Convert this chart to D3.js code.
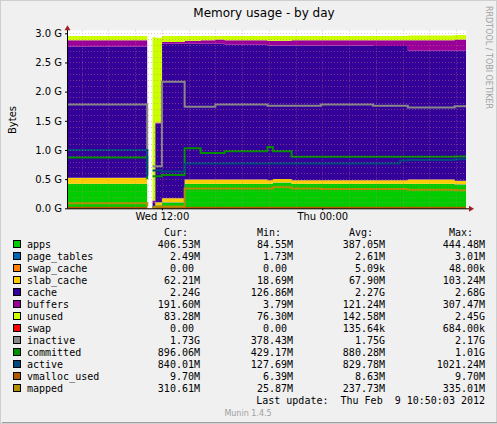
<!DOCTYPE html>
<html><head><meta charset="utf-8">
<script src="https://cdn.jsdelivr.net/npm/d3@7"></script>
<style>
body{margin:0;background:#fff}
text{font-family:"DejaVu Sans",sans-serif}
.mono{font-family:"DejaVu Sans Mono",monospace;font-size:10px;white-space:pre}
</style></head><body>
<svg id="c" width="497" height="424"></svg>
<script>
// hours since Wed 2012-02-08 00:00, step-after samples
var hours = [4.9, 10.9, 11.15, 11.3, 11.5, 12.0, 13.7, 14.9, 16.0, 16.7, 19.9, 20.3, 21.7, 23.9, 27.8, 29.8, 30.4, 33.9, 34.75];
// values in GB
var apps      = [0.42, 0.05, NaN, 0.00, 0.05, 0.10, 0.42, 0.42, 0.42, 0.42, 0.42, 0.44, 0.42, 0.42, 0.42, 0.42, 0.42, 0.41, 0.41];
var pageTables= [0.003,0.003,NaN,0.003,0.003,0.003,0.003,0.003,0.003,0.003,0.003,0.003,0.003,0.003,0.003,0.003,0.003,0.003,0.003];
var swapCache = [0, 0, NaN, 0, 0, 0, 0, 0, 0, 0, 0, 0, 0, 0, 0, 0, 0, 0, 0];
var slabCache = [0.10, 0.02, NaN, 0.00, 0.05, 0.07, 0.07, 0.07, 0.07, 0.07, 0.06, 0.06, 0.06, 0.06, 0.06, 0.06, 0.07, 0.06, 0.06];
var cache     = [2.25, 0.40, NaN, 0.10, 1.35, 2.65, 2.33, 2.33, 2.33, 2.31, 2.31, 2.29, 2.31, 2.31, 2.30, 2.30, 2.21, 2.23, 2.24];
var buffers   = [0.11, 0.03, NaN, 0.03, 0.02, 0.03, 0.05, 0.06, 0.07, 0.08, 0.08, 0.08, 0.09, 0.09, 0.10, 0.10, 0.18, 0.19, 0.19];
var unused    = [0.07, 2.40, NaN, 2.80, 1.45, 0.10, 0.08, 0.07, 0.06, 0.07, 0.08, 0.08, 0.07, 0.07, 0.07, 0.07, 0.08, 0.08, 0.08];
var swap      = [0, 0, NaN, 0, 0, 0, 0, 0, 0, 0, 0, 0, 0, 0, 0, 0, 0, 0, 0];
var inactive  = [1.78, 0.60, NaN, 0.72, 0.72, 2.17, 1.74, 1.74, 1.78, 1.78, 1.76, 1.76, 1.76, 1.78, 1.76, 1.76, 1.73, 1.75, 1.75];
var committed = [0.87, 0.50, NaN, 0.55, 0.55, 0.57, 1.03, 0.95, 0.95, 0.98, 1.05, 0.98, 0.885, 0.885, 0.885, 0.885, 0.885, 0.89, 0.89];
var active    = [1.00, 0.55, NaN, 0.65, 0.65, 0.63, 0.77, 0.77, 0.77, 0.77, 0.77, 0.77, 0.77, 0.77, 0.77, 0.82, 0.83, 0.84, 0.84];
var vmalloc   = [0.01, 0.01, NaN, 0.01, 0.01, 0.01, 0.01, 0.01, 0.01, 0.01, 0.01, 0.01, 0.01, 0.01, 0.01, 0.01, 0.01, 0.01, 0.01];
var mapped    = [0.085,0.03, NaN, 0.02, 0.03, 0.03, 0.34, 0.34, 0.34, 0.34, 0.34, 0.36, 0.34, 0.33, 0.33, 0.33, 0.32, 0.31, 0.31];
var yTicks = [0, 0.5, 1.0, 1.5, 2.0, 2.5, 3.0];
var xTickHours = [12, 24];
var xTickLabels = ["Wed 12:00", "Thu 00:00"];

var names = ["apps","page_tables","swap_cache","slab_cache","cache","buffers","unused","swap","inactive","committed","active","vmalloc_used","mapped"];
var colors = ["#00CC00","#0066B3","#FF8000","#FFCC00","#330099","#990099","#CCFF00","#FF0000","#888888","#008F00","#00487D","#B35A00","#B38F00"];
var curV = ["406.53M","2.49M","0.00 ","62.21M","2.24G","191.60M","83.28M","0.00 ","1.73G","896.06M","840.01M","9.70M","310.61M"];
var minV = ["84.55M","1.73M","0.00 ","18.69M","126.86M","3.79M","76.30M","0.00 ","378.43M","429.17M","127.69M","6.39M","25.87M"];
var avgV = ["387.05M","2.61M","5.09k","67.90M","2.27G","121.24M","142.58M","135.64k","1.75G","880.28M","829.78M","8.63M","237.73M"];
var maxV = ["444.48M","3.01M","48.00k","103.24M","2.68G","307.47M","2.45G","684.00k","2.17G","1.01G","1021.24M","9.70M","335.01M"];

var svg = d3.select("#c");
svg.append("rect").attr("width",497).attr("height",424).attr("fill","#F0F0F0");
svg.append("rect").attr("x",0.5).attr("y",0.5).attr("width",496).attr("height",423).attr("fill","none").attr("stroke","#CFCFCF");
svg.append("line").attr("x1",2).attr("x2",497).attr("y1",422.5).attr("y2",422.5).attr("stroke","#A0A0A0");

var L = 67, R = 466, T = 33.3, B = 208.3;
var x = d3.scaleLinear().domain([hours[0], hours[hours.length-1]]).range([L, R]);
var y = d3.scaleLinear().domain([0, 3.0]).range([B, T]);

svg.append("rect").attr("x",L).attr("y",T-3).attr("width",R-L).attr("height",B-T+3).attr("fill","#fff");

var stackSeries = [apps, pageTables, swapCache, slabCache, cache, buffers, unused, swap];
var base = hours.map(function () { return 0; });
stackSeries.forEach(function (s, k) {
    var pts = hours.map(function (h, i) { var lo = base[i]; base[i] = lo + (isNaN(s[i]) ? 0 : s[i]); return {h: h, lo: lo, hi: base[i], ok: !isNaN(s[i])}; });
    var area = d3.area().defined(function (d) { return d.ok; }).curve(d3.curveStepAfter)
        .x(function (d) { return x(d.h); }).y0(function (d) { return y(d.lo); }).y1(function (d) { return y(d.hi); });
    svg.append("path").attr("d", area(pts)).attr("fill", colors[k]);
});

var lineSeries = [inactive, committed, active, vmalloc, mapped];
lineSeries.forEach(function (s, k) {
    var line = d3.line().defined(function (d) { return !isNaN(d[1]); }).curve(d3.curveStepAfter)
        .x(function (d) { return x(d[0]); }).y(function (d) { return y(d[1]); });
    svg.append("path").attr("d", line(hours.map(function (h, i) { return [h, s[i]]; })))
        .attr("fill","none").attr("stroke", colors[8 + k]).attr("stroke-width", 2);
});

// grid drawn on top, like rrdtool
var g = svg.append("g").attr("opacity",0.55);
d3.range(0, 3.01, 0.1).forEach(function (v) {
    g.append("line").attr("x1",L).attr("x2",R).attr("y1",Math.round(y(v))+0.5).attr("y2",Math.round(y(v))+0.5)
        .attr("stroke", "#D08080").attr("stroke-dasharray","1,2").attr("stroke-width",0.8);
});
for (var hh = 6; hh <= 34; hh += 2) {
    g.append("line").attr("x1",Math.round(x(hh))+0.5).attr("x2",Math.round(x(hh))+0.5).attr("y1",T-3).attr("y2",B)
        .attr("stroke", hh % 12 === 0 ? "#D06060" : "#D08080").attr("stroke-dasharray","1,2").attr("stroke-width",0.8);
}

// axes
var yAxis = svg.append("g").attr("transform","translate(" + L + ",0)")
    .call(d3.axisLeft(y).tickValues(yTicks).tickSize(2).tickFormat(function (d) { return d.toFixed(1) + " G"; }));
var xAxis = svg.append("g").attr("transform","translate(0," + B + ")")
    .call(d3.axisBottom(x).tickValues(xTickHours).tickSize(2).tickFormat(function (d, i) { return xTickLabels[i]; }));
[yAxis, xAxis].forEach(function (a) {
    a.select(".domain").remove();
    a.selectAll("text").attr("font-size", 10).attr("fill","#000").attr("font-family","DejaVu Sans");
    a.selectAll("line").attr("stroke","#000");
});
svg.append("line").attr("x1",L).attr("x2",R+5).attr("y1",B+0.5).attr("y2",B+0.5).attr("stroke","#000");
svg.append("line").attr("x1",L+0.5).attr("x2",L+0.5).attr("y1",B).attr("y2",T-7).attr("stroke","#000");
svg.append("path").attr("d","M" + (R+3) + "," + (B-2.5) + "L" + (R+8) + "," + (B+0.5) + "L" + (R+3) + "," + (B+3.5) + "Z").attr("fill","#A02020");
svg.append("path").attr("d","M" + (L-2.5) + "," + (T-3) + "L" + (L+0.5) + "," + (T-8) + "L" + (L+3.5) + "," + (T-3) + "Z").attr("fill","#A02020");

svg.append("text").attr("x",264).attr("y",17).attr("text-anchor","middle").attr("font-size",12).text("Memory usage - by day");
svg.append("text").attr("transform","translate(16,120) rotate(-90)").attr("text-anchor","middle").attr("font-size",10).text("Bytes");
svg.append("text").attr("transform","translate(486,6) rotate(90)").attr("font-size",8).attr("fill","#A0A0A0").text("RRDTOOL / TOBI OETIKER");

// legend
var cols = [[200, curV, "Cur:"], [293, minV, "Min:"], [385, avgV, "Avg:"], [485, maxV, "Max:"]];
cols.forEach(function (c) {
    svg.append("text").attr("class","mono").attr("x",c[0] - 12).attr("y",236).attr("text-anchor","end").text(c[2]);
});
names.forEach(function (n, i) {
    var yy = 248 + i * 12;
    svg.append("rect").attr("x",13.5).attr("y",yy - 7.5).attr("width",7).attr("height",7).attr("fill",colors[i]).attr("stroke","#000");
    svg.append("text").attr("class","mono").attr("x",27).attr("y",yy).text(n);
    cols.forEach(function (c) {
        svg.append("text").attr("class","mono").attr("x",c[0]).attr("y",yy).attr("text-anchor","end").text(c[1][i]);
    });
});
svg.append("text").attr("class","mono").attr("x",485).attr("y",404).attr("text-anchor","end").text("Last update:  Thu Feb  9 10:50:03 2012");
svg.append("text").attr("x",248).attr("y",416).attr("text-anchor","middle").attr("font-size",8).attr("fill","#A0A0A0").text("Munin 1.4.5");
</script></body></html>
